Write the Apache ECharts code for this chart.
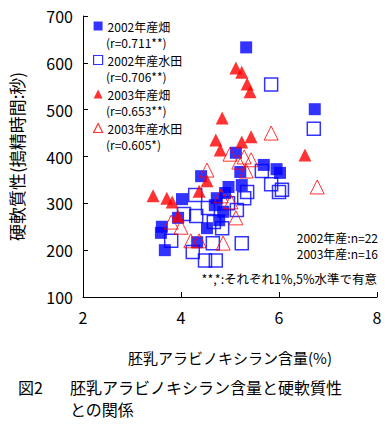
<!DOCTYPE html>
<html><head><meta charset="utf-8">
<script src="https://cdn.jsdelivr.net/npm/echarts@6/dist/echarts.min.js"></script>
<style>html,body{margin:0;padding:0;background:#fff}#c{width:389px;height:431px}</style>
</head><body><div id="c"></div>
<script>
const FONT = '"Noto Sans CJK JP", "Noto Sans", sans-serif';
const seriesNames = ['2002年産畑', '2002年産水田', '2003年産畑', '2003年産水田'];
const rLabels = ['(r=0.711**)', '(r=0.706**)', '(r=0.653**)', '(r=0.605*)'];
const xTitle = '胚乳アラビノキシラン含量(%)';
const yTitle = '硬軟質性(搗精時間:秒)';
const nLabels = ['2002年産:n=22', '2003年産:n=16'];
const sigLabel = '**,*:それぞれ1%,5%水準で有意';
const captionNo = '図2';
const captionLines = ['胚乳アラビノキシラン含量と硬軟質性', 'との関係'];
const xRange = [2, 8, 2];
const yRange = [100, 700, 100];

// 2002 field (filled squares)
const field2002 = [
  [5.33, 633], [6.73, 501], [5.69, 382], [5.95, 373], [6.02, 365], [5.12, 408],
  [5.21, 367], [5.24, 339], [4.97, 335], [4.73, 311], [4.69, 296], [4.86, 282],
  [4.78, 264], [4.53, 247], [4.02, 309], [3.94, 269], [3.61, 250], [3.59, 237],
  [3.67, 200], [4.33, 217], [4.41, 358], [4.90, 322]
];
// 2002 paddy (open squares)
const paddy2002 = [
  [5.84, 554], [6.71, 459], [5.65, 369], [5.84, 341], [6.00, 324], [6.06, 329],
  [5.29, 311], [5.14, 286], [5.24, 215], [4.65, 215], [4.29, 318], [4.31, 273],
  [3.80, 220], [4.24, 196], [4.49, 178], [4.71, 178], [4.67, 260], [5.35, 324],
  [4.06, 277], [4.84, 247], [4.96, 300], [4.55, 290]
];
// 2003 field (filled triangles)
const field2003 = [
  [5.12, 589], [5.24, 580], [5.35, 555], [5.41, 538], [4.84, 482], [4.71, 435],
  [4.80, 414], [5.24, 431], [5.43, 442], [6.53, 403], [4.53, 348], [4.37, 326],
  [3.43, 316], [3.71, 311], [3.82, 303], [3.94, 273]
];
// 2003 paddy (open triangles)
const paddy2003 = [
  [5.84, 450], [6.78, 335], [5.00, 405], [5.29, 399], [5.43, 393], [5.33, 369],
  [4.53, 371], [4.82, 316], [5.02, 303], [5.12, 269], [4.86, 215], [4.20, 220],
  [4.37, 220], [3.80, 260], [4.00, 249], [5.18, 388]
];

const chart = echarts.init(document.getElementById('c'), null, {renderer: 'svg'});
const txt = (text, x, y, size, align) => ({
  type: 'text', x: x, y: y, silent: true,
  style: {text: text, x: 0, y: 0, fill: '#000', font: size + 'px ' + FONT, lineHeight: size,
    align: align || 'left', verticalAlign: 'middle'}
});
const rYs = [42.5, 76.5, 110.5, 144.5];
const graphics = [];
rLabels.forEach((t, i) => graphics.push(txt(t, 106, rYs[i], 12)));
graphics.push(txt(nLabels[0], 378, 237, 12, 'right'));
graphics.push(txt(nLabels[1], 378, 253.5, 12, 'right'));
graphics.push(txt(sigLabel, 377, 278, 12.5, 'right'));
graphics.push(txt(captionNo, 18, 387, 16));
graphics.push(txt(captionLines[0], 70, 387, 16));
graphics.push(txt(captionLines[1], 70, 409, 16));

const common = {type: 'scatter', animation: false, emphasis: {disabled: true}, silent: true};
chart.setOption({
  backgroundColor: '#fff',
  textStyle: {fontFamily: FONT},
  animation: false,
  grid: {left: 83, right: 12, top: 16, bottom: 134, containLabel: false},
  xAxis: {
    type: 'value', min: xRange[0], max: xRange[1], interval: xRange[2],
    axisLine: {show: true, lineStyle: {color: '#000', width: 1}},
    axisTick: {show: true, inside: true, length: 5, lineStyle: {color: '#000'}},
    splitLine: {show: false},
    axisLabel: {color: '#000', fontSize: 16, margin: 12, fontFamily: FONT},
    name: xTitle, nameLocation: 'middle', nameGap: 53,
    nameTextStyle: {color: '#000', fontSize: 15, fontFamily: FONT}
  },
  yAxis: {
    type: 'value', min: yRange[0], max: yRange[1], interval: yRange[2],
    axisLine: {show: true, lineStyle: {color: '#000', width: 1}},
    axisTick: {show: true, inside: true, length: 5, lineStyle: {color: '#000'}},
    splitLine: {show: false},
    axisLabel: {color: '#000', fontSize: 16, margin: 10, fontFamily: FONT},
    name: yTitle, nameLocation: 'middle', nameGap: 58, nameRotate: 90,
    nameTextStyle: {color: '#000', fontSize: 17, fontFamily: FONT}
  },
  legend: {
    orient: 'vertical', left: 93, top: 20, itemWidth: 9, itemHeight: 9, itemGap: 22,
    padding: 0,
    selectedMode: false, data: seriesNames,
    itemStyle: {borderWidth: 1.2},
    textStyle: {color: '#000', fontSize: 12, lineHeight: 12, fontFamily: FONT}
  },
  graphic: graphics,
  series: [
    Object.assign({}, common, {name: seriesNames[0], data: field2002, symbol: 'rect', symbolSize: 12,
      itemStyle: {color: '#0000ff', borderWidth: 0}}),
    Object.assign({}, common, {name: seriesNames[1], data: paddy2002, symbol: 'rect', symbolSize: 13,
      itemStyle: {color: 'rgba(255,255,255,0)', borderColor: '#0000ff', borderWidth: 1.5}}),
    Object.assign({}, common, {name: seriesNames[2], data: field2003, symbol: 'triangle', symbolSize: 13,
      itemStyle: {color: '#ff0000', borderWidth: 0}}),
    Object.assign({}, common, {name: seriesNames[3], data: paddy2003, symbol: 'triangle', symbolSize: 14,
      itemStyle: {color: 'rgba(255,255,255,0)', borderColor: '#ff0000', borderWidth: 1}})
  ]
});
</script>
</body></html>
